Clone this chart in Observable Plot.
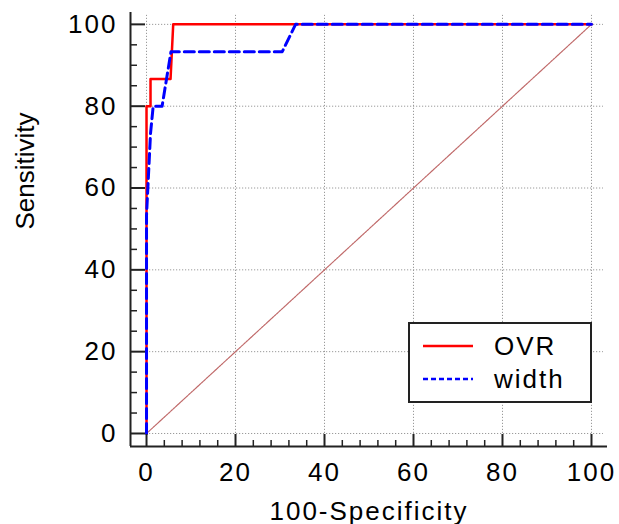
<!DOCTYPE html>
<html>
<head>
<meta charset="utf-8">
<script src="https://cdn.jsdelivr.net/npm/d3@7"></script>
<script src="https://cdn.jsdelivr.net/npm/@observablehq/plot@0.6"></script>
<style>
  html, body { margin: 0; padding: 0; background: #fff; }
  #wrap { position: relative; width: 619px; height: 524px; font-family: "Liberation Sans", Arial, sans-serif; }
  #wrap svg text.h { letter-spacing: 2px; }
  #legend { position: absolute; left: 408px; top: 322px; width: 184px; height: 81px; box-sizing: border-box;
            border: 2px solid #222; background: #fff; font-size: 26px; letter-spacing: 2px; color: #000; }
  #legend .row { position: absolute; left: 0; height: 30px; display: flex; align-items: center; }
  #legend svg { position: absolute; left: 13px; top: 0; }
  #legend span { position: absolute; left: 84px; white-space: nowrap; line-height: 30px; }
</style>
</head>
<body>
<div id="wrap"></div>
<script>
// ROC curve data (100-Specificity, Sensitivity)
const ovrFpr   = [0, 0, 0.9, 0.9, 5.4, 6.0, 100];
const ovrTpr   = [0, 80, 80, 86.67, 86.67, 100, 100];
const widthFpr = [0, 0, 0.9, 1.5, 3.5, 5.5, 30.5, 33.5, 100];
const widthTpr = [0, 53.33, 73.33, 80, 80, 93.33, 93.33, 100, 100];
const diagFpr  = [0, 100];
const diagTpr  = [0, 100];
const seriesNames = ["OVR", "width"];
const seriesColors = ["#ff0000", "#0000ff"];
const xTicks = [0, 20, 40, 60, 80, 100];
const yTicks = [0, 20, 40, 60, 80, 100];
const xMinor = [4, 8, 12, 16, 24, 28, 32, 36, 44, 48, 52, 56, 64, 68, 72, 76, 84, 88, 92, 96];
const yMinor = [5, 10, 15, 25, 30, 35, 45, 50, 55, 65, 70, 75, 85, 90, 95];
const xLabel = "100-Specificity";
const yLabel = "Sensitivity";

const ovr = ovrFpr.map((x, i) => ({x, y: ovrTpr[i]}));
const wid = widthFpr.map((x, i) => ({x, y: widthTpr[i]}));
const diag = diagFpr.map((x, i) => ({x, y: diagTpr[i]}));

const W = 619, H = 524;
const mL = 130, mR = 12, mT = 12, mB = 78;
const xDom = [-3.6, 103.6], yDom = [-3.18, 102.9];
const frameW = W - mL - mR, frameH = H - mT - mB;
const fs = 26;

const chart = Plot.plot({
  width: W, height: H,
  marginLeft: mL, marginRight: mR, marginTop: mT, marginBottom: mB,
  style: {fontFamily: '"Liberation Sans", Arial, sans-serif', fontSize: fs + "px", color: "#000", background: "#fff", overflow: "visible"},
  x: {domain: xDom, label: null},
  y: {domain: yDom, label: null},
  marks: [
    // grid
    Plot.ruleY(yTicks, {y: d => d, x1: 0, x2: 102.7, stroke: "#999", strokeWidth: 1, strokeDasharray: "1.2,1.8"}),
    Plot.ruleX(xTicks, {x: d => d, y1: 0, y2: 102.2, stroke: "#999", strokeWidth: 1, strokeDasharray: "1.2,1.8"}),
    // diagonal reference
    Plot.line(diag, {x: "x", y: "y", stroke: "#c06a6a", strokeWidth: 1.2, strokeDasharray: "2,1"}),
    // curves
    Plot.line(ovr, {x: "x", y: "y", stroke: seriesColors[0], strokeWidth: 2.5, curve: "linear"}),
    Plot.line(wid, {x: "x", y: "y", stroke: seriesColors[1], strokeWidth: 3, strokeDasharray: "10,5", curve: "linear"}),
    // axis lines
    Plot.ruleX([xDom[0]], {stroke: "#222", strokeWidth: 2}),
    Plot.ruleY([yDom[0]], {stroke: "#222", strokeWidth: 2}),
    // inward ticks
    Plot.tickY(yTicks, {y: d => d, stroke: "#222", strokeWidth: 2, insetRight: frameW - 15}),
    Plot.tickY(yMinor, {y: d => d, stroke: "#222", strokeWidth: 1.5, insetRight: frameW - 7}),
    Plot.tickX(xTicks, {x: d => d, stroke: "#222", strokeWidth: 2, insetTop: frameH - 12}),
    Plot.tickX(xMinor, {x: d => d, stroke: "#222", strokeWidth: 1.5, insetTop: frameH - 6}),
    // tick labels
    Plot.axisX(xTicks, {tickSize: 0, tickPadding: 16, fontSize: fs, label: null}),
    Plot.axisY(yTicks, {tickSize: 0, tickPadding: 13, fontSize: fs, label: null}),
    // axis titles
    Plot.text([xLabel], {text: d => d, frameAnchor: "bottom", dy: 65, lineAnchor: "middle", fontSize: fs, fill: "#000"}),
    Plot.text([yLabel], {text: d => d, frameAnchor: "left", dx: -105, rotate: -90, lineAnchor: "middle", fontSize: fs, fill: "#000"})
  ]
});

// letter-spacing for horizontal texts (tick labels and x title)
chart.querySelectorAll("g[aria-label='x-axis tick label'] text, g[aria-label='y-axis tick label'] text").forEach(t => t.setAttribute("class", "h"));
chart.querySelectorAll("g[aria-label='text'] text").forEach(t => { if (t.textContent === xLabel) t.setAttribute("class", "h"); });

const wrap = document.getElementById("wrap");
wrap.appendChild(chart);

// legend
const legend = document.createElement("div");
legend.id = "legend";
seriesNames.forEach((name, i) => {
  const row = document.createElement("div");
  row.className = "row";
  row.style.top = (i === 0 ? 7 : 40) + "px";
  row.style.width = "180px";
  const svg = d3.create("svg").attr("width", 52).attr("height", 30);
  svg.append("line").attr("x1", 0).attr("x2", 50).attr("y1", 15).attr("y2", 15)
    .attr("stroke", seriesColors[i]).attr("stroke-width", 2.5)
    .attr("stroke-dasharray", i === 1 ? "5,3" : null);
  row.appendChild(svg.node());
  const s = document.createElement("span");
  s.textContent = name;
  row.appendChild(s);
  legend.appendChild(row);
});
wrap.appendChild(legend);
</script>
</body>
</html>
